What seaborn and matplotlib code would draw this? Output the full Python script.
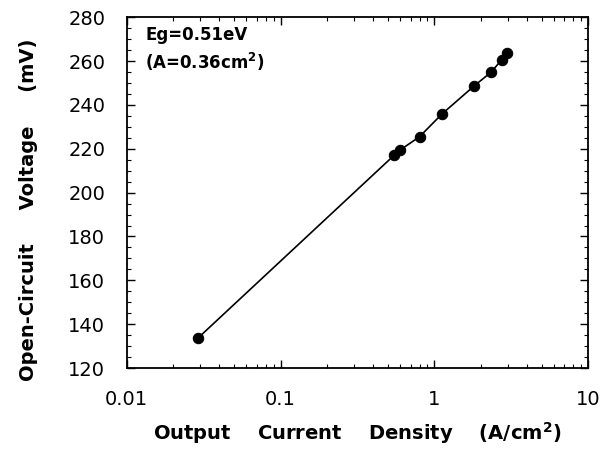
import numpy as np
import pandas as pd
import matplotlib
matplotlib.use('Agg')
import matplotlib.pyplot as plt
import seaborn as sns
from matplotlib.ticker import LogLocator, MultipleLocator, FixedLocator, FixedFormatter

# Data
current_density = [0.029, 0.55, 0.60, 0.80, 1.12, 1.82, 2.33, 2.73, 2.95]   # A/cm^2
voc_mv = [133.6, 217.2, 219.5, 225.5, 235.9, 248.8, 254.9, 260.5, 263.6]      # mV

x_ticks = [0.01, 0.1, 1, 10]
x_tick_labels = ['0.01', '0.1', '1', '10']
y_ticks = [120, 140, 160, 180, 200, 220, 240, 260, 280]

df = pd.DataFrame({'J': current_density, 'Voc': voc_mv})

sns.set_style('ticks')
plt.rcParams['font.family'] = ['DejaVu Sans']
plt.rcParams['mathtext.fontset'] = 'dejavusans'
plt.rcParams['text.color'] = 'black'
plt.rcParams['axes.labelcolor'] = 'black'

fig = plt.figure(figsize=(6.07, 4.5), dpi=100)
ax = fig.add_axes([0.2087, 0.1822, 0.7605, 0.7794])

sns.lineplot(data=df, x='J', y='Voc', ax=ax, color='black', linewidth=1.2,
             estimator=None, sort=True, marker='o', markersize=7.5,
             markeredgecolor='black', markerfacecolor='black')

ax.set_xscale('log')
ax.set_xlim(0.01, 10)
ax.set_ylim(120, 280)

ax.xaxis.set_major_locator(FixedLocator(x_ticks))
ax.xaxis.set_major_formatter(FixedFormatter(x_tick_labels))
ax.xaxis.set_minor_locator(LogLocator(base=10, subs=np.arange(2, 10)))
ax.yaxis.set_major_locator(FixedLocator(y_ticks))
ax.yaxis.set_minor_locator(MultipleLocator(5))

for s in ax.spines.values():
    s.set_visible(True)
    s.set_linewidth(1.3)
    s.set_color('black')

ax.tick_params(which='both', direction='in', top=True, right=True, colors='black')
ax.tick_params(which='major', length=6, width=1.0)
ax.tick_params(which='minor', length=3, width=0.8)
ax.tick_params(axis='x', which='major', labelsize=14, pad=16)
ax.tick_params(axis='y', which='major', labelsize=14, pad=15.5)

ax.set_xlabel('Output    Current    Density    (A/cm$^\\mathbf{2}$)',
              fontsize=14, fontweight='bold', labelpad=8)
ax.set_ylabel('Open-Circuit     Voltage     (mV)', fontsize=14, fontweight='bold')
ax.yaxis.set_label_coords(-0.192, 0.45)

ax.text(0.04, 0.975, 'Eg=0.51eV', transform=ax.transAxes, fontsize=12,
        fontweight='bold', va='top', ha='left')
ax.text(0.04, 0.905, '(A=0.36cm$^\\mathbf{2}$)', transform=ax.transAxes, fontsize=12,
        fontweight='bold', va='top', ha='left')

fig.savefig('out.png', dpi=100)
